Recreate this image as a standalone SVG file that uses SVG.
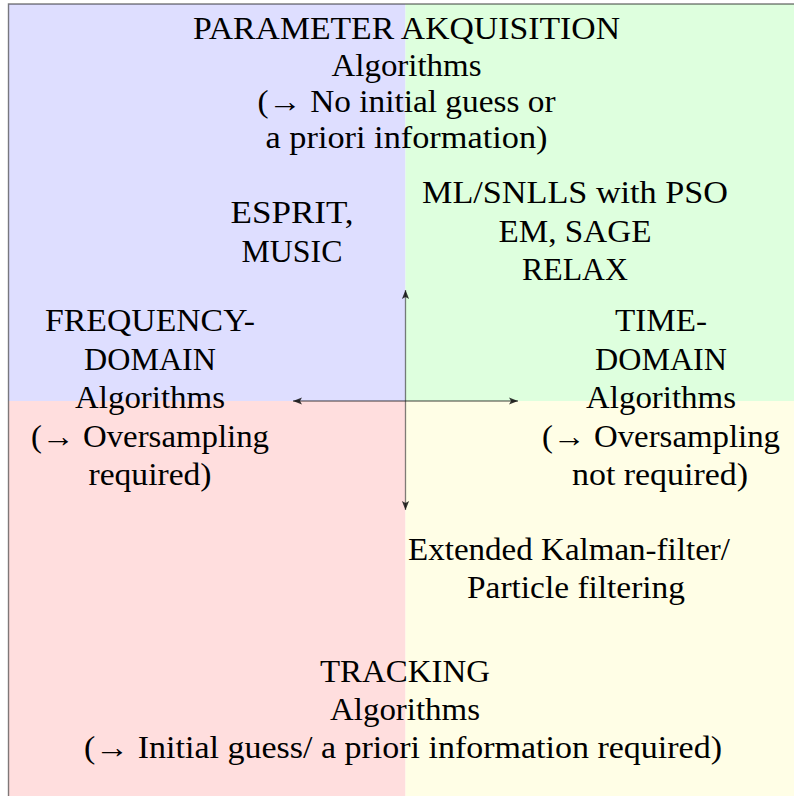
<svg xmlns="http://www.w3.org/2000/svg" width="794" height="796" viewBox="0 0 794 796">
  <style>
    .lbl { font-size: 31px; fill: #000; text-anchor: middle; }
    .st { text-anchor: start; }
    .axis { stroke: #000; stroke-opacity: 0.5; stroke-width: 1.3; fill: none; }
  </style>
  <defs>
    <marker id="tip" viewBox="-10 -4.5 11 9" refX="0" refY="0" markerWidth="11" markerHeight="9" markerUnits="userSpaceOnUse" orient="auto">
      <path d="M0,0 L-9,3.6 L-7,0 L-9,-3.6 Z" fill="#111" fill-opacity="0.85"/>
    </marker>
  </defs>

  <!-- quadrant backgrounds -->
  <g id="quadrants">
    <rect x="8.5" y="4" width="397" height="397" fill="#dedeff"/>
    <rect x="405.5" y="4" width="400" height="397" fill="#deffde"/>
    <rect x="8.5" y="401" width="397" height="400" fill="#ffdede"/>
    <rect x="405.5" y="401" width="400" height="400" fill="#fffee6"/>
    <path d="M8.5,800 V4 H800" fill="none" stroke="#000" stroke-opacity="0.5" stroke-width="1.4"/>
  </g>

  <!-- axes -->
  <g id="connectors">
    <line class="axis" x1="405.5" y1="401" x2="405.5" y2="290" marker-end="url(#tip)"/>
    <line class="axis" x1="405.5" y1="401" x2="405.5" y2="510" marker-end="url(#tip)"/>
    <line class="axis" x1="405.5" y1="401" x2="293" y2="401" marker-end="url(#tip)"/>
    <line class="axis" x1="405.5" y1="401" x2="518" y2="401" marker-end="url(#tip)"/>
  </g>

  <g font-family="'Liberation Serif', 'Times New Roman', Tinos, 'DejaVu Serif', serif">
  <g id="parameter-acquisition">
    <text class="lbl" x="406.5" y="39" textLength="427" lengthAdjust="spacingAndGlyphs">PARAMETER AKQUISITION</text>
    <text class="lbl" x="406.5" y="76" textLength="150" lengthAdjust="spacingAndGlyphs">Algorithms</text>
    <text class="lbl" x="406.5" y="112" textLength="298" lengthAdjust="spacingAndGlyphs">(→ No initial guess or</text>
    <text class="lbl" x="406.5" y="148" textLength="282" lengthAdjust="spacingAndGlyphs">a priori information)</text>
  </g>

  <g id="esprit-music">
    <text class="lbl" x="292" y="223" textLength="123" lengthAdjust="spacingAndGlyphs">ESPRIT,</text>
    <text class="lbl" x="292" y="262" textLength="101" lengthAdjust="spacingAndGlyphs">MUSIC</text>
  </g>

  <g id="ml-snlls">
    <text class="lbl" x="575" y="203" textLength="306" lengthAdjust="spacingAndGlyphs">ML/SNLLS with PSO</text>
    <text class="lbl" x="575" y="242" textLength="153" lengthAdjust="spacingAndGlyphs">EM, SAGE</text>
    <text class="lbl" x="575" y="280" textLength="106" lengthAdjust="spacingAndGlyphs">RELAX</text>
  </g>

  <g id="frequency-domain">
    <text class="lbl" x="150" y="331" textLength="210" lengthAdjust="spacingAndGlyphs">FREQUENCY-</text>
    <text class="lbl" x="150" y="370" textLength="132" lengthAdjust="spacingAndGlyphs">DOMAIN</text>
    <text class="lbl" x="150" y="408" textLength="150" lengthAdjust="spacingAndGlyphs">Algorithms</text>
    <text class="lbl" x="150" y="447" textLength="238" lengthAdjust="spacingAndGlyphs">(→ Oversampling</text>
    <text class="lbl" x="150" y="485" textLength="123" lengthAdjust="spacingAndGlyphs">required)</text>
  </g>

  <g id="time-domain">
    <text class="lbl" x="661" y="331" textLength="92" lengthAdjust="spacingAndGlyphs">TIME-</text>
    <text class="lbl" x="661" y="370" textLength="132" lengthAdjust="spacingAndGlyphs">DOMAIN</text>
    <text class="lbl" x="661" y="408" textLength="150" lengthAdjust="spacingAndGlyphs">Algorithms</text>
    <text class="lbl" x="661" y="447" textLength="238" lengthAdjust="spacingAndGlyphs">(→ Oversampling</text>
    <text class="lbl" x="660" y="485" textLength="176" lengthAdjust="spacingAndGlyphs">not required)</text>
  </g>

  <g id="kalman">
    <text class="lbl st" x="408" y="560" textLength="322" lengthAdjust="spacingAndGlyphs">Extended Kalman-filter/</text>
    <text class="lbl" x="576" y="598" textLength="218" lengthAdjust="spacingAndGlyphs">Particle filtering</text>
  </g>

  <g id="tracking">
    <text class="lbl" x="405" y="682" textLength="170" lengthAdjust="spacingAndGlyphs">TRACKING</text>
    <text class="lbl" x="405" y="720" textLength="150" lengthAdjust="spacingAndGlyphs">Algorithms</text>
    <text class="lbl" x="403" y="758" textLength="638" lengthAdjust="spacingAndGlyphs">(→ Initial guess/ a priori information required)</text>
  </g>
  </g>
</svg>
